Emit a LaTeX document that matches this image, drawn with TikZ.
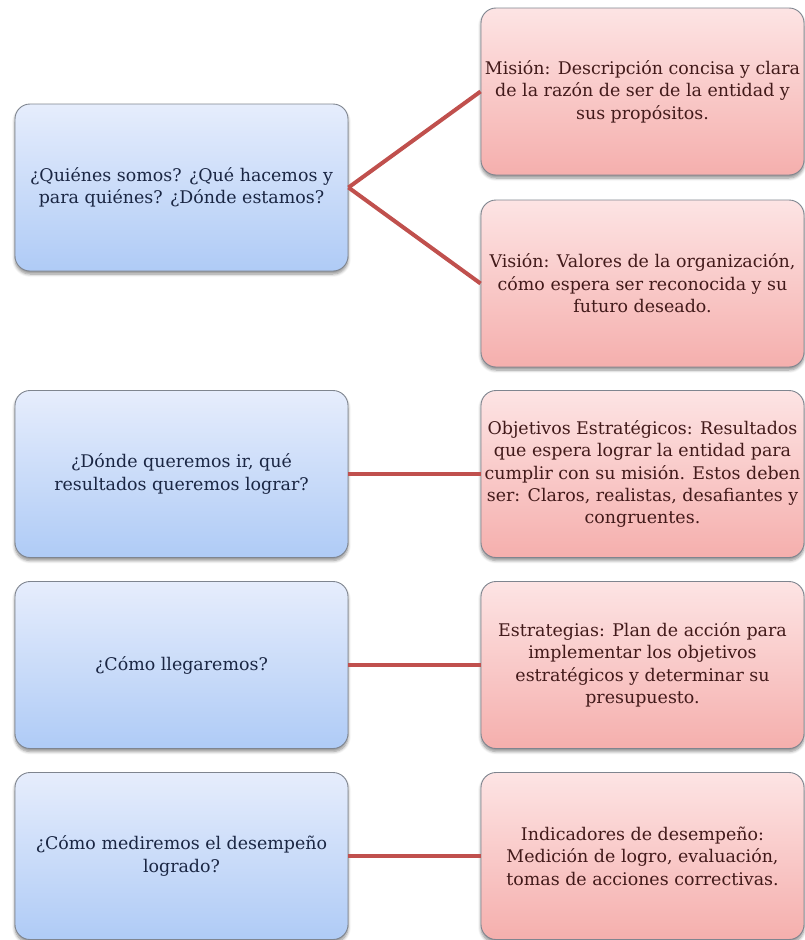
\documentclass[tikz,border=0pt]{standalone}
\usepackage{fontspec}
\setmainfont{DejaVu Serif}
\usetikzlibrary{shadows.blur}

\definecolor{qtop}{HTML}{E6EDFC}
\definecolor{qbot}{HTML}{AFCBF6}
\definecolor{atop}{HTML}{FDE4E4}
\definecolor{abot}{HTML}{F5AFAD}
\definecolor{qtext}{HTML}{1A2643}
\definecolor{atext}{HTML}{421A1A}
\definecolor{linkred}{HTML}{C0504D}
\definecolor{frame}{HTML}{7F858F}

\tikzset{
  card/.style={draw=frame, line width=0.9bp, rounded corners=15bp,
    align=center, inner xsep=1bp, inner ysep=4bp,
    font=\fontsize{17.5}{22.5}\selectfont,
    blur shadow={shadow xshift=0bp, shadow yshift=-3bp, shadow blur steps=6,
      shadow blur radius=3bp, shadow opacity=45}},
  question/.style={card, top color=qtop, bottom color=qbot, text=qtext,
    minimum width=333bp, minimum height=167bp},
  answer/.style={card, top color=atop, bottom color=abot, text=atext,
    minimum width=323bp, minimum height=167bp},
  link/.style={draw=linkred, line width=4bp}
}

\begin{document}
\begin{tikzpicture}[x=1bp, y=-1bp]
  \useasboundingbox (0,0) rectangle (805,940);

  % questions (left column)
  \node[question] (q1) at (181.5,187.5) {¿Quiénes somos? ¿Qué hacemos y\\para quiénes? ¿Dónde estamos?};
  \node[question] (q2) at (181.5,474) {¿Dónde queremos ir, qué\\resultados queremos lograr?};
  \node[question] (q3) at (181.5,665) {¿Cómo llegaremos?};
  \node[question] (q4) at (181.5,856) {¿Cómo mediremos el desempeño\\logrado?};

  % answers (right column)
  \node[answer] (mision) at (642.5,91.5) {Misión: Descripción concisa y clara\\de la razón de ser de la entidad y\\sus propósitos.};
  \node[answer] (vision) at (642.5,283.5) {Visión: Valores de la organización,\\cómo espera ser reconocida y su\\futuro deseado.};
  \node[answer] (objetivos) at (642.5,474) {Objetivos Estratégicos: Resultados\\que espera lograr la entidad para\\cumplir con su misión. Estos deben\\ser: Claros, realistas, desafiantes y\\congruentes.};
  \node[answer] (estrategias) at (642.5,665) {Estrategias: Plan de acción para\\implementar los objetivos\\estratégicos y determinar su\\presupuesto.};
  \node[answer] (indicadores) at (642.5,856) {Indicadores de desempeño:\\Medición de logro, evaluación,\\tomas de acciones correctivas.};

  % connectors
  \draw[link] (q1.east) -- (mision.west);
  \draw[link] (q1.east) -- (vision.west);
  \draw[link] (q2.east) -- (objetivos.west);
  \draw[link] (q3.east) -- (estrategias.west);
  \draw[link] (q4.east) -- (indicadores.west);
\end{tikzpicture}
\end{document}
